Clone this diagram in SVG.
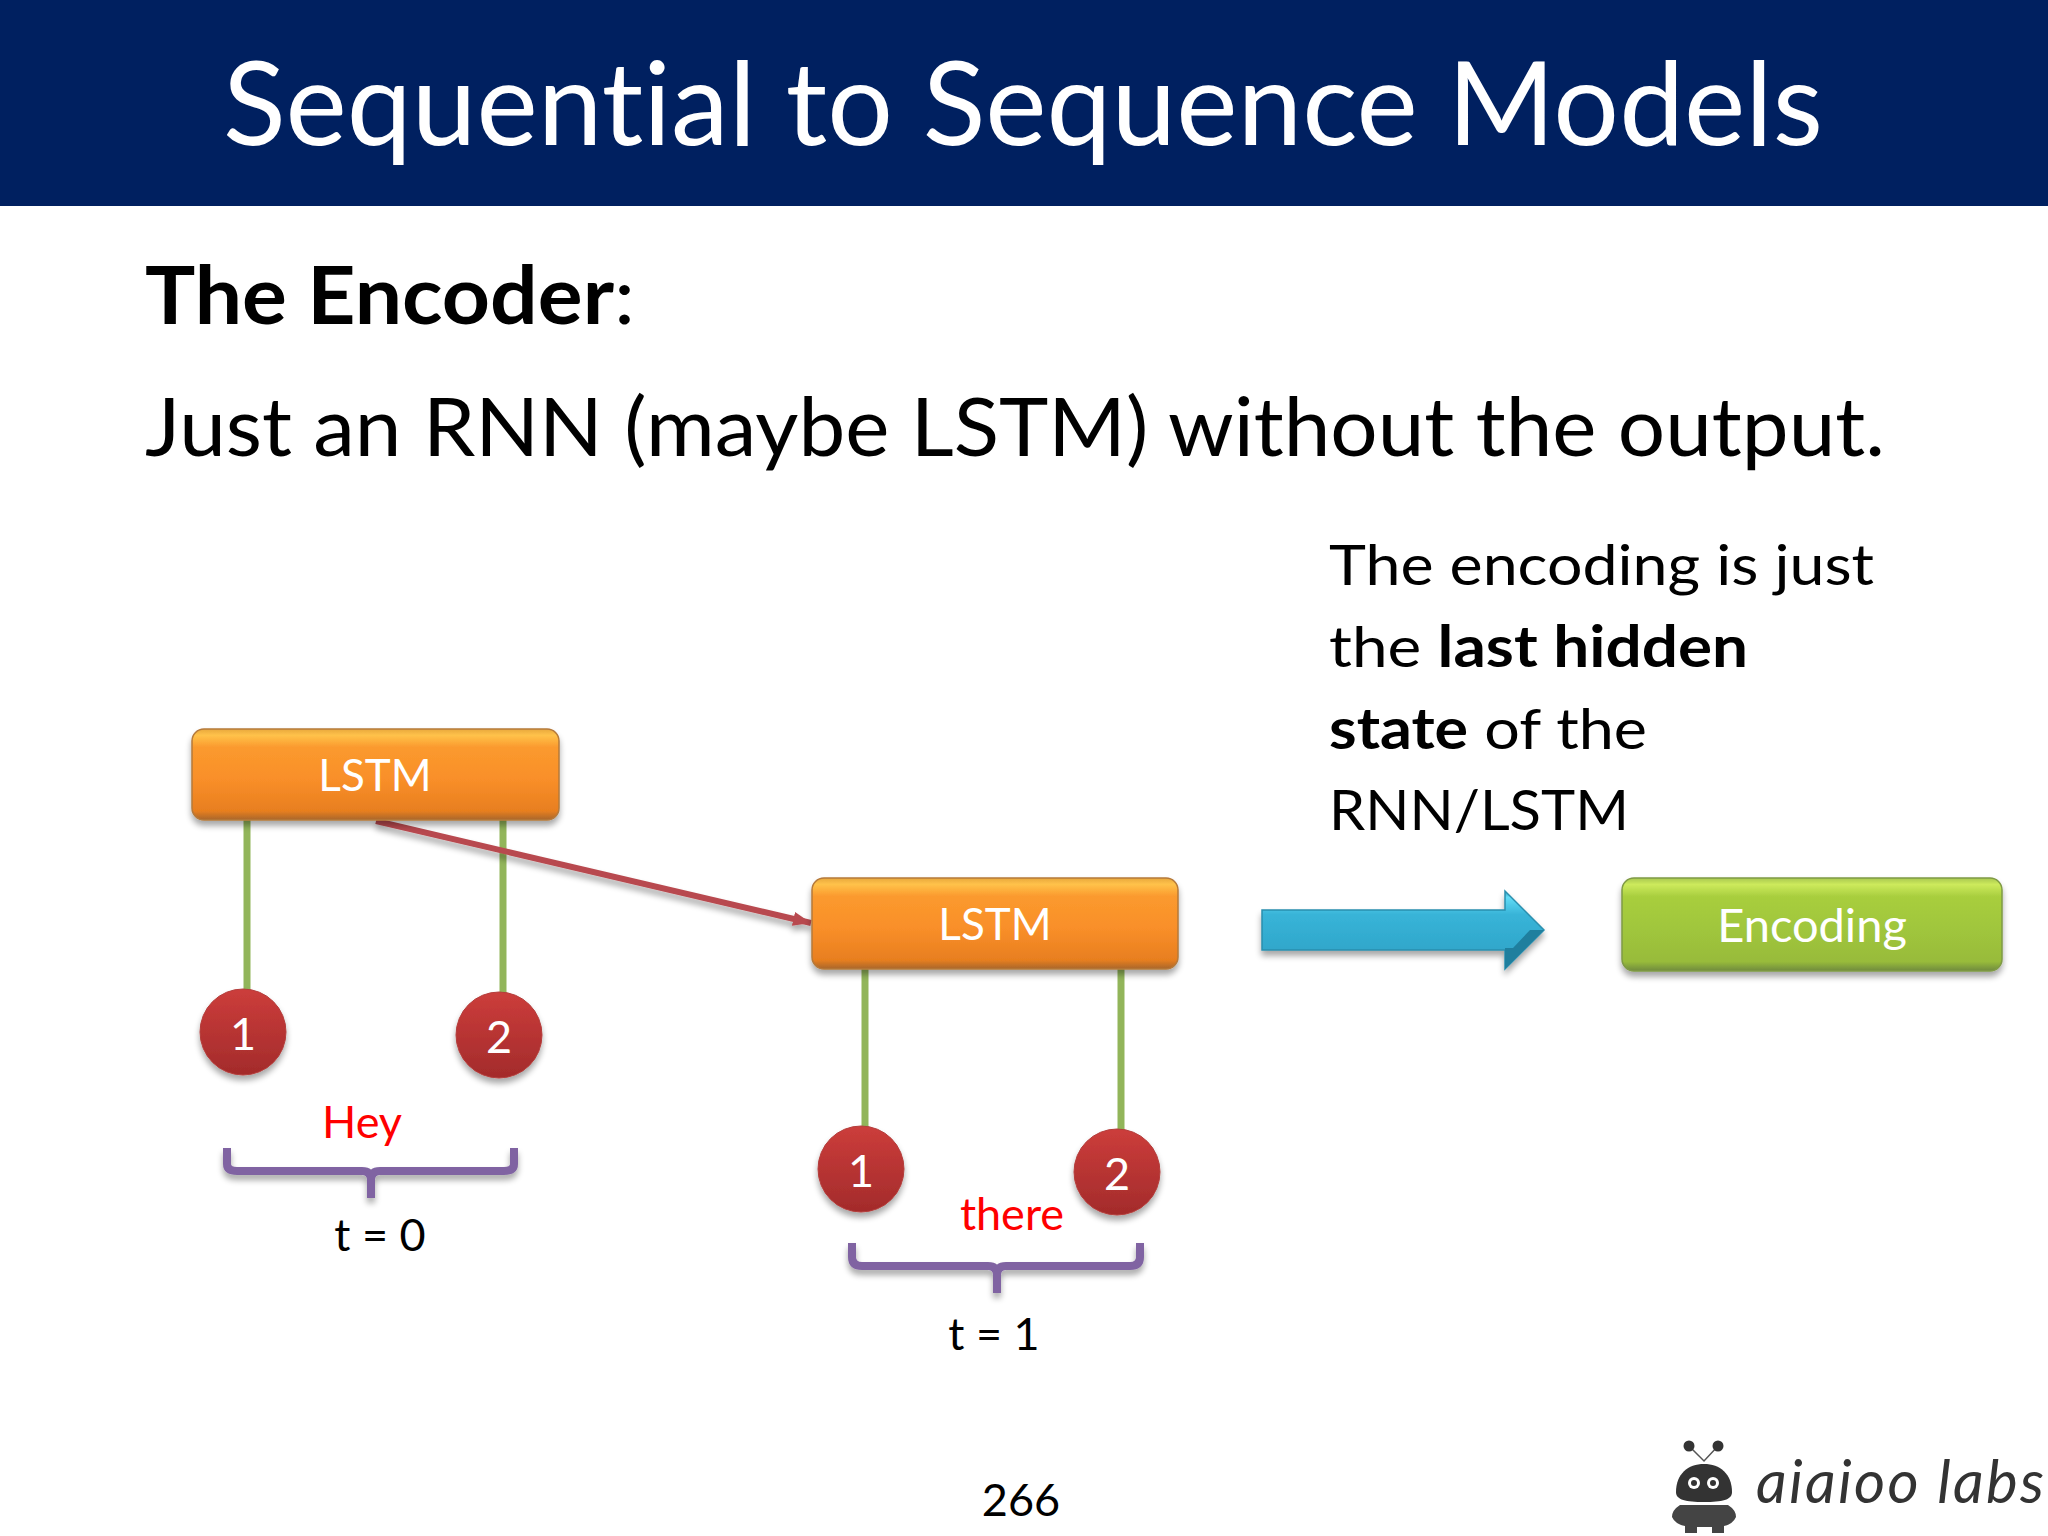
<svg xmlns="http://www.w3.org/2000/svg" width="2048" height="1536" viewBox="0 0 2048 1536">
<style>
text{font-family:"Lato","Carlito","Liberation Sans",sans-serif;fill:#000;font-variant-ligatures:none}
.w{fill:#fff;text-anchor:middle;font-size:44px}
.r{fill:#f00;text-anchor:middle;font-size:45px}
.t{text-anchor:middle;font-size:45px}
.n{fill:#fff;text-anchor:middle;font-size:45px}
.h{font-size:57px}
.box{stroke-width:1.5}
.hl{fill:url(#glow)}
.st{stroke:#92b55a;stroke-width:7;fill:none}
.br{stroke:#8064a2;stroke-width:8;fill:none;filter:url(#sh)}
.c{fill:url(#red);stroke:#b33c3a;stroke-width:1;filter:url(#sh)}
.d{fill:#333}
</style>
<defs>
<linearGradient id="or" x1="0" y1="0" x2="0" y2="1"><stop offset="0" stop-color="#e8a83c"/><stop offset=".07" stop-color="#ffc24a"/><stop offset=".2" stop-color="#fb9a2e"/><stop offset=".55" stop-color="#f98f29"/><stop offset=".9" stop-color="#e87f1f"/><stop offset="1" stop-color="#a8662c"/></linearGradient>
<linearGradient id="gr" x1="0" y1="0" x2="0" y2="1"><stop offset="0" stop-color="#a9c850"/><stop offset=".07" stop-color="#cdea5c"/><stop offset=".2" stop-color="#a8ce3e"/><stop offset=".55" stop-color="#a0c63c"/><stop offset=".9" stop-color="#98bb3a"/><stop offset="1" stop-color="#6f8a3e"/></linearGradient>
<linearGradient id="red" x1="0" y1="0" x2="0" y2="1"><stop offset="0" stop-color="#cc3d3b"/><stop offset="1" stop-color="#a32b2b"/></linearGradient>
<linearGradient id="bl" x1="0" y1="0" x2="0" y2="1"><stop offset="0" stop-color="#2f9fbf"/><stop offset=".08" stop-color="#62dcf6"/><stop offset=".3" stop-color="#38b4d8"/><stop offset=".85" stop-color="#2ea4c8"/><stop offset="1" stop-color="#1f7f9e"/></linearGradient>
<filter id="sh" x="-20%" y="-20%" width="140%" height="150%"><feGaussianBlur in="SourceAlpha" stdDeviation="3"/><feOffset dy="5"/><feComponentTransfer><feFuncA type="linear" slope=".35"/></feComponentTransfer><feMerge><feMergeNode/><feMergeNode in="SourceGraphic"/></feMerge></filter>
<marker id="ah" markerUnits="userSpaceOnUse" markerWidth="20" markerHeight="16" refX="18" refY="7" orient="auto"><path d="M0 0L18 7L0 14z" fill="#b84a4f"/></marker>
</defs>
<rect width="2048" height="1536" fill="#fff"/>
<g id="title">
<rect width="2048" height="206" fill="#002060"/>
<text x="223" y="145" font-size="117" style="fill:#fff" textLength="1600" lengthAdjust="spacingAndGlyphs">Sequential to Sequence Models</text>
</g>
<g id="heading">
<text x="145" y="324" font-size="80" textLength="490" lengthAdjust="spacingAndGlyphs"><tspan font-weight="700">The Encoder</tspan>:</text>
<text x="145" y="456" font-size="82" textLength="1740" lengthAdjust="spacingAndGlyphs">Just an RNN (maybe LSTM) without the output.</text>
</g>
<g id="note">
<text class="h" x="1329" y="585" textLength="545" lengthAdjust="spacingAndGlyphs">The encoding is just</text>
<text class="h" x="1329" y="667" textLength="419" lengthAdjust="spacingAndGlyphs">the <tspan font-weight="700">last hidden</tspan></text>
<text class="h" x="1329" y="749" textLength="318" lengthAdjust="spacingAndGlyphs"><tspan font-weight="700">state</tspan> of the</text>
<text class="h" x="1329" y="830" textLength="300" lengthAdjust="spacingAndGlyphs">RNN/LSTM</text>
</g>
<g id="connectors">
<path class="st" d="M247 820V990M503 820V994M865 969V1130M1121 969V1134"/>
<path d="M376 821L811 923" stroke="#b84a4f" stroke-width="6" fill="none" marker-end="url(#ah)" filter="url(#sh)"/>
</g>
<g id="lstm-0"><rect class="box" x="192" y="729" width="367" height="91" rx="12" fill="url(#or)" stroke="#b5793a" filter="url(#sh)"/><text class="w" x="375" y="791">LSTM</text></g>
<g id="lstm-1"><rect class="box" x="812" y="878" width="366" height="91" rx="12" fill="url(#or)" stroke="#b5793a" filter="url(#sh)"/><text class="w" x="995" y="940">LSTM</text></g>
<g id="input-0-1"><circle class="c" cx="243" cy="1032" r="43"/><text class="n" x="243" y="1050">1</text></g>
<g id="input-0-2"><circle class="c" cx="499" cy="1035" r="43"/><text class="n" x="499" y="1053">2</text></g>
<g id="input-1-1"><circle class="c" cx="861" cy="1169" r="43"/><text class="n" x="861" y="1187">1</text></g>
<g id="input-1-2"><circle class="c" cx="1117" cy="1172" r="43"/><text class="n" x="1117" y="1190">2</text></g>
<g id="brace-0"><path class="br" d="M227 1148V1164Q227 1171 237 1171H362Q371 1171 371 1180V1198M371 1180Q371 1171 380 1171H504Q514 1171 514 1164V1148"/></g>
<g id="brace-1"><path class="br" d="M852 1243V1257Q852 1266 862 1266H988Q997 1266 997 1275V1293M997 1275Q997 1266 1006 1266H1130Q1140 1266 1140 1257V1243"/></g>
<g id="labels">
<text class="r" x="362" y="1138">Hey</text>
<text class="r" x="1012" y="1230">there</text>
<text class="t" x="380" y="1251">t = 0</text>
<text class="t" x="994" y="1350">t = 1</text>
<text class="t" x="1021" y="1516">266</text>
</g>
<g id="arrow"><path d="M1262 910H1505V891L1544 930L1505 969V950H1262z" fill="url(#bl)" stroke="#2a8fae" stroke-width="1.5" filter="url(#sh)"/><path d="M1505 969L1544 930H1530L1513 948H1505z" fill="#1f7f9e"/></g>
<g id="encoding"><rect class="box" x="1622" y="878" width="380" height="93" rx="12" fill="url(#gr)" stroke="#7f9a45" filter="url(#sh)"/><text class="w" x="1812" y="942" style="font-size:47px">Encoding</text></g>
<g id="logo">
<path d="M1689 1446L1704 1461L1718 1446" stroke="#555" stroke-width="1.5" fill="none"/>
<circle class="d" cx="1689" cy="1446" r="5.5"/><circle class="d" cx="1718" cy="1446" r="5.5"/>
<path class="d" d="M1676 1492C1676 1474 1688 1464 1704 1464C1720 1464 1732 1474 1732 1492C1732 1500 1722 1502 1704 1502C1686 1502 1676 1500 1676 1492z"/>
<circle cx="1694" cy="1483" r="6" fill="#fff"/><circle cx="1713" cy="1483" r="6" fill="#fff"/>
<circle class="d" cx="1694" cy="1483" r="3"/><circle class="d" cx="1713" cy="1483" r="3"/>
<path d="M1680 1505H1728Q1736 1510 1736 1517Q1733 1524 1724 1526V1533H1712V1527H1697V1533H1685V1526Q1675 1524 1672 1517Q1672 1510 1680 1505z" fill="#444"/>
<text x="1756" y="1503" font-size="60" font-style="italic" style="fill:#333" textLength="288" lengthAdjust="spacing">aiaioo labs</text>
</g>
</svg>
